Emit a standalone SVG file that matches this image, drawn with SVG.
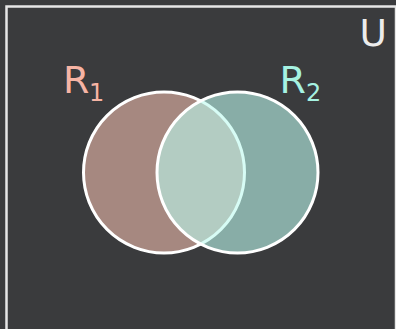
<svg xmlns="http://www.w3.org/2000/svg" width="396" height="329" viewBox="0 0 396 329">
  <style>
    .lbl { font-family: "DejaVu Sans", sans-serif; }
    .ring { fill: none; stroke: #ffffff; stroke-width: 3; }
  </style>
  <rect x="0" y="0" width="396" height="329" fill="#3a3b3d"/>
  <g id="universe">
    <rect x="6.5" y="6.5" width="389.5" height="330" fill="none" stroke="#e6e6e6" stroke-width="2.5"/>
    <text class="lbl" x="359.5" y="46" font-size="37.5" fill="#ececec">U</text>
  </g>
  <g id="R1">
    <circle cx="164" cy="172.5" r="80.5" fill="#a68880" stroke="#ffffff" stroke-width="3"/>
    <text class="lbl" x="63" y="92.7" font-size="38" fill="#f6b4a4">R<tspan x="89" y="100.7" font-size="24">1</tspan></text>
  </g>
  <g id="R2">
    <circle cx="237.5" cy="172.5" r="80.5" fill="#bcfaee" fill-opacity="0.6"/>
    <circle class="ring" cx="237.5" cy="172.5" r="80.5"/>
    <text class="lbl" x="279.5" y="92.7" font-size="38" fill="#a6f2e2">R<tspan x="306" y="100.7" font-size="24">2</tspan></text>
  </g>
</svg>
